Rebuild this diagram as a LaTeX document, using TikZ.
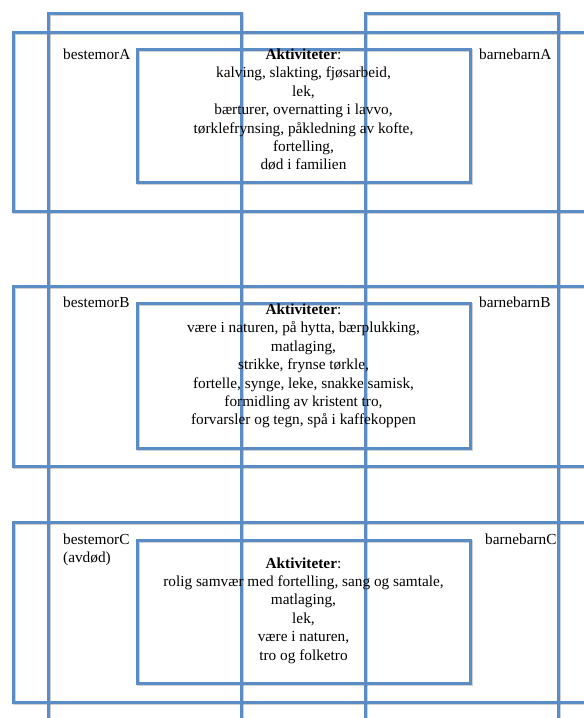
\documentclass[tikz,border=0pt]{standalone}
\usepackage{fontspec}
\setmainfont{Liberation Serif}
\definecolor{boxblue}{RGB}{90,141,197}
\newcommand\fsz{\fontsize{15.3}{18.4}\selectfont}
\begin{document}
\begin{tikzpicture}[x=1pt,y=-1pt,
  frame/.style={draw=boxblue,line width=3pt},
  shadowline/.style={draw=black,line width=3pt,opacity=0.18},
  lbl/.style={inner sep=0pt,anchor=base west,font=\fsz,align=left},
  act/.style={inner sep=0pt,anchor=north,align=center,font=\fsz}]
\useasboundingbox (0,0) rectangle (584,718);
\clip (0,0) rectangle (584,718);
% shadows
\foreach \xa/\ya/\xb/\yb in {48/13/241/740, 365/13/558/740,
    13/32/620/211, 137/49/470/182,
    13/286/620/466, 137/303/470/448,
    13/522/620/702, 137/540/470/683}{
  \draw[shadowline] (\xa+1.2,\ya+1.8) rectangle (\xb+1.2,\yb+1.8);
}
% frames
\foreach \xa/\ya/\xb/\yb in {48/13/241/740, 365/13/558/740,
    13/32/620/211, 137/49/470/182,
    13/286/620/466, 137/303/470/448,
    13/522/620/702, 137/540/470/683}{
  \draw[frame] (\xa,\ya) rectangle (\xb,\yb);
}
% labels
\node[lbl] (gmA) at (63,59) {bestemorA};
\node[lbl] (bbA) at (479,59) {barnebarnA};
\node[lbl] (gmB) at (63,307.5) {bestemorB};
\node[lbl] (bbB) at (479,307.5) {barnebarnB};
\node[lbl] (gmC) at (63,562.9) {bestemorC\\(avdød)};
\node[lbl] (bbC) at (485,544) {barnebarnC};
% activities
\node[act] (actA) at (303.5,48.6) {\textbf{Aktiviteter}:\\
  kalving, slakting, fjøsarbeid,\\
  lek,\\
  bærturer, overnatting i lavvo,\\
  tørklefrynsing, påkledning av kofte,\\
  fortelling,\\
  død i familien};
\node[act] (actB) at (303.5,303.6) {\textbf{Aktiviteter}:\\
  være i naturen, på hytta, bærplukking,\\
  matlaging,\\
  strikke, frynse tørkle,\\
  fortelle, synge, leke, snakke samisk,\\
  formidling av kristent tro,\\
  forvarsler og tegn, spå i kaffekoppen};
\node[act] (actC) at (303.5,557.3) {\textbf{Aktiviteter}:\\
  rolig samvær med fortelling, sang og samtale,\\
  matlaging,\\
  lek,\\
  være i naturen,\\
  tro og folketro};
\end{tikzpicture}
\end{document}
